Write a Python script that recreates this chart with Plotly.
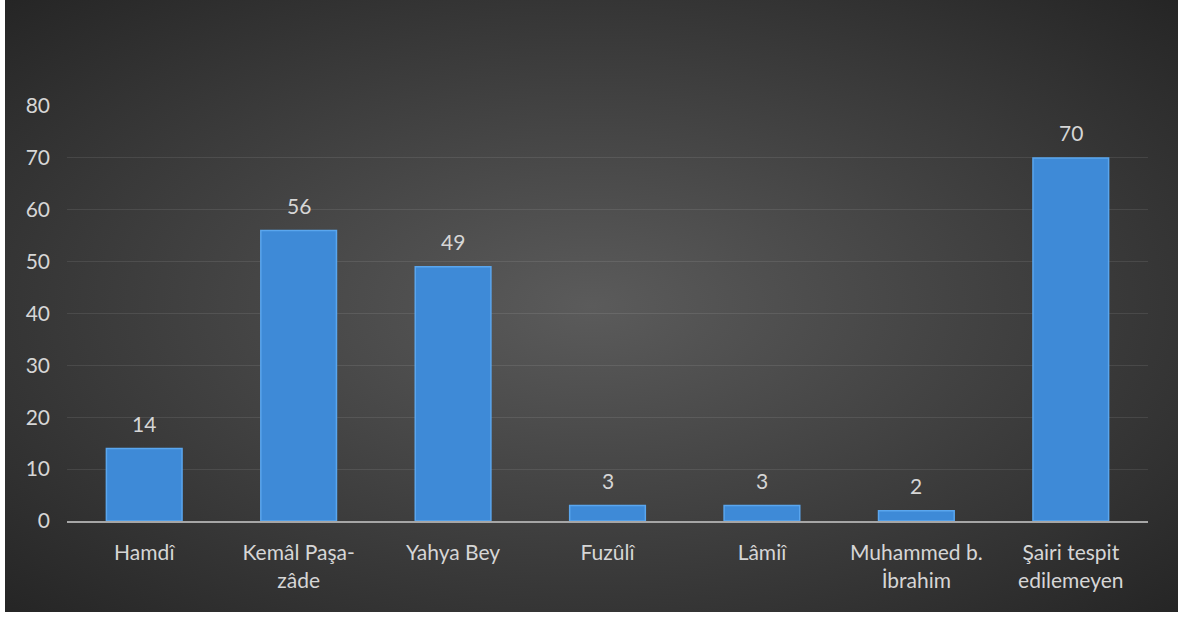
import base64
import plotly.graph_objects as go

categories = ["Hamdî", "Kemâl Paşa-<br>zâde", "Yahya Bey", "Fuzûlî", "Lâmiî",
              "Muhammed b.<br>İbrahim", "Şairi tespit<br>edilemeyen"]
values = [14, 56, 49, 3, 3, 2, 70]
y_ticks = [0, 10, 20, 30, 40, 50, 60, 70, 80]

W, H = 1178, 617
L, R, T, B = 67, 30, 106, 96
PW, PH = W - L - R, H - T - B

FONT = "Lato, 'Open Sans', sans-serif"
TXT = "#d6d6d6"

svg = f'''<svg xmlns="http://www.w3.org/2000/svg" width="{W}" height="{H}" viewBox="0 0 {W} {H}" preserveAspectRatio="none">
<defs><radialGradient id="g" cx="0.5" cy="0.5" r="0.71" fx="0.5" fy="0.5">
<stop offset="0" stop-color="#5b5b5b"/><stop offset="1" stop-color="#252525"/></radialGradient></defs>
<rect x="0" y="0" width="{W}" height="{H}" fill="#ffffff"/>
<rect x="5" y="0" width="{W-5}" height="612" fill="url(#g)"/>
</svg>'''
src = "data:image/svg+xml;base64," + base64.b64encode(svg.encode()).decode()

fig = go.Figure()
fig.add_trace(go.Bar(
    x=categories, y=values,
    marker=dict(color="#3e8ad7", line=dict(color="#5aa6ee", width=1.5)),
    hoverinfo="skip",
))

for c, v in zip(categories, values):
    fig.add_annotation(x=c, y=v, text=str(v), showarrow=False,
                       yanchor="middle", yshift=25,
                       font=dict(family=FONT, size=21, color=TXT))

fig.add_layout_image(dict(
    source=src, xref="paper", yref="paper",
    x=-L / PW, y=1 + T / PH, sizex=W / PW, sizey=H / PH,
    xanchor="left", yanchor="top", sizing="stretch", layer="below",
))

fig.update_layout(
    width=W, height=H,
    margin=dict(l=L, r=R, t=T, b=B),
    paper_bgcolor="#2a2a2a",
    plot_bgcolor="rgba(0,0,0,0)",
    bargap=0.51,
    showlegend=False,
    font=dict(family=FONT, size=21, color=TXT),
)
fig.update_xaxes(
    showgrid=False, showline=True, linecolor="#a6a6a6", linewidth=2,
    ticks="", tickfont=dict(family=FONT, size=21, color=TXT),
    ticklabelstandoff=12, fixedrange=True,
)
fig.update_yaxes(
    range=[0, 80], tickvals=y_ticks, showgrid=True,
    gridcolor="rgba(255,255,255,0.09)", gridwidth=1,
    zeroline=False, showline=False, ticks="",
    tickfont=dict(family=FONT, size=21, color=TXT),
    ticklabelstandoff=16, fixedrange=True,
)

fig.write_html(
    "out.html",
    config={"displayModeBar": False},
    post_script="document.body.style.margin='0';document.body.style.overflow='hidden';",
)
